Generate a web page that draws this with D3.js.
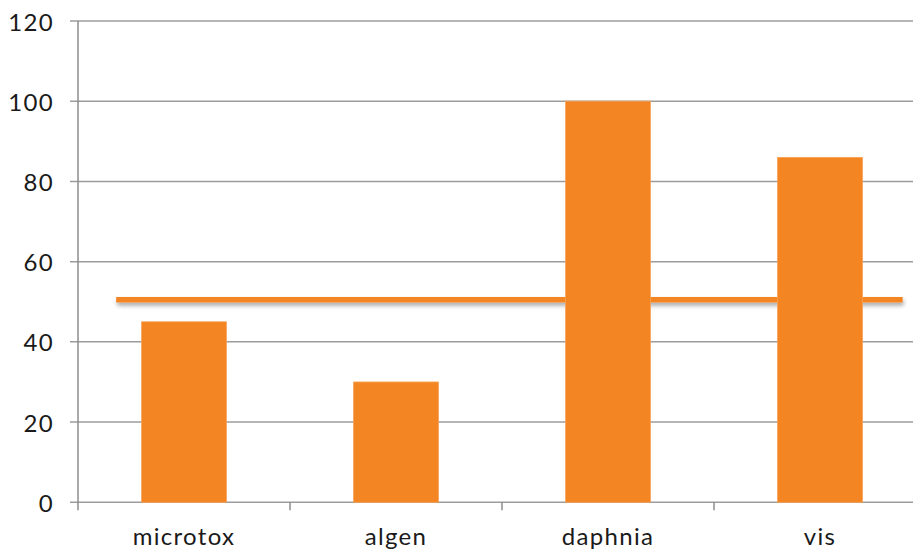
<!DOCTYPE html>
<html>
<head>
<meta charset="utf-8">
<script src="https://cdn.jsdelivr.net/npm/d3@7"></script>
<style>
  html, body { margin: 0; padding: 0; background: #fff; }
  svg { display: block; }
  text { font-family: Lato, "Open Sans", sans-serif; fill: #1a1a1a; letter-spacing: 1.3px; }
</style>
</head>
<body>
<svg id="chart" width="913" height="551"></svg>
<script>
// Chart data
const categories = ["microtox", "algen", "daphnia", "vis"];
const values = [45, 30, 100, 86];
const yTicks = [0, 20, 40, 60, 80, 100, 120];
// Reference line: level and horizontal extent in category units
const refLevel = [50.5];
const refExtent = [0.18, 3.89];

const W = 913, H = 551;
const margin = { left: 78, top: 21, bottom: 49 };
const plotRight = 926;

const svg = d3.select("#chart");

const y = d3.scaleLinear().domain([0, 120]).range([H - margin.bottom + 0.3, margin.top]);
const x = d3.scaleBand().domain(categories).range([margin.left, plotRight])
  .paddingInner(0.6).paddingOuter(0.3);
const xc = d3.scaleLinear().domain([0, categories.length]).range([margin.left, plotRight]);

const defs = svg.append("defs");
const f = defs.append("filter").attr("id", "shadow")
  .attr("filterUnits", "userSpaceOnUse")
  .attr("x", 0).attr("y", 0).attr("width", W).attr("height", H);
f.append("feDropShadow").attr("dx", 1).attr("dy", 3).attr("stdDeviation", 2)
  .attr("flood-color", "#000").attr("flood-opacity", 0.35);

// Gridlines
svg.append("g").selectAll("line").data(yTicks).join("line")
  .attr("x1", margin.left - 8).attr("x2", W)
  .attr("y1", d => y(d)).attr("y2", d => y(d))
  .attr("stroke", "#9c9c9c").attr("stroke-width", 1.5);

// Y axis line
svg.append("line")
  .attr("x1", margin.left).attr("x2", margin.left)
  .attr("y1", y(120)).attr("y2", y(0) + 8)
  .attr("stroke", "#8c8c8c").attr("stroke-width", 1.5);

// Y tick labels
svg.append("g").selectAll("text").data(yTicks).join("text")
  .attr("x", 54).attr("y", d => y(d))
  .attr("text-anchor", "end").attr("dominant-baseline", "central")
  .attr("font-size", 24).text(d => d);

// Category boundary ticks
svg.append("g").selectAll("line").data(d3.range(1, categories.length + 1)).join("line")
  .attr("x1", d => xc(d)).attr("x2", d => xc(d))
  .attr("y1", y(0)).attr("y2", y(0) + 8)
  .attr("stroke", "#8c8c8c").attr("stroke-width", 1.5);

// Reference line (sits behind the bars)
svg.append("line")
  .attr("x1", xc(refExtent[0])).attr("x2", xc(refExtent[1]))
  .attr("y1", y(refLevel[0])).attr("y2", y(refLevel[0]))
  .attr("stroke", "#f38522").attr("stroke-width", 5.5)
  .attr("filter", "url(#shadow)");

// Bars
svg.append("g").selectAll("rect").data(values).join("rect")
  .attr("x", (d, i) => x(categories[i]))
  .attr("width", x.bandwidth())
  .attr("y", d => y(d))
  .attr("height", d => y(0) - y(d))
  .attr("fill", "#f38522")
  .attr("stroke", "#f7a155").attr("stroke-width", 0.8);

// Category labels
svg.append("g").selectAll("text").data(categories).join("text")
  .attr("x", d => x(d) + x.bandwidth() / 2)
  .attr("y", 545)
  .attr("text-anchor", "middle")
  .attr("font-size", 24).text(d => d);
</script>
</body>
</html>
